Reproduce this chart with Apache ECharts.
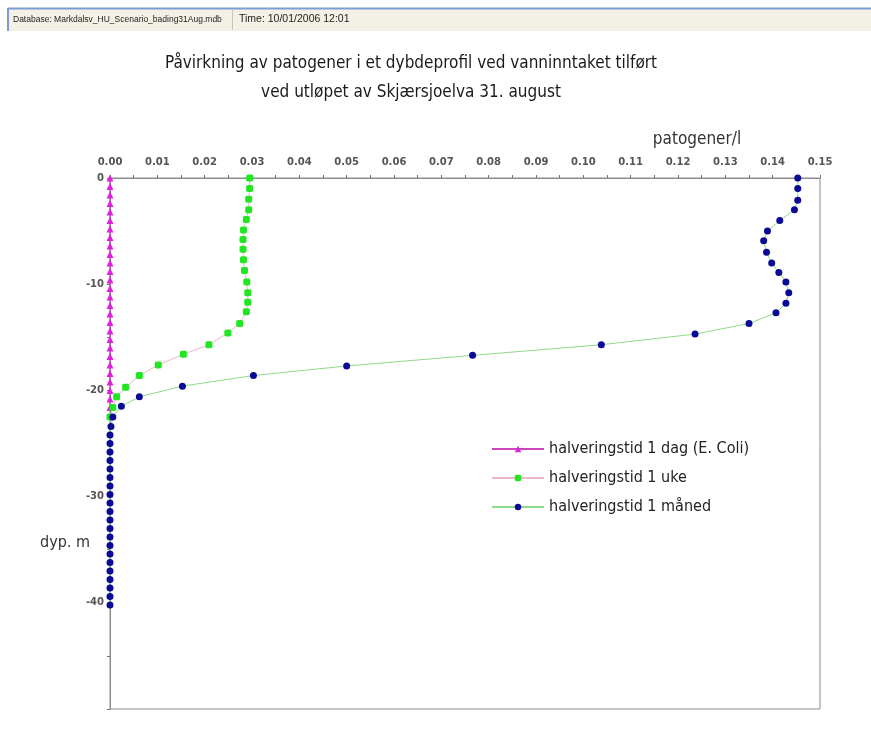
<!DOCTYPE html>
<html>
<head>
<meta charset="utf-8">
<script src="https://cdn.jsdelivr.net/npm/echarts@6/dist/echarts.min.js"></script>
<style>html,body{margin:0;padding:0;background:#fff;}#c{width:871px;height:751px;}</style>
</head>
<body>
<div id="c"></div>
<script>
var titleLines = ['Påvirkning av patogener i et dybdeprofil ved vanninntaket tilført', 'ved utløpet av Skjærsjoelva 31. august'];
var seriesNames = ['halveringstid 1 dag (E. Coli)', 'halveringstid 1 uke', 'halveringstid 1 måned'];
var xTicks = {min: 0, max: 0.15, interval: 0.01};
var yTicks = {min: -50, max: 0, interval: 10};

var dagDepth = [0,-0.8,-1.6,-2.4,-3.2,-4.0,-4.8,-5.6,-6.4,-7.2,-8.0,-8.8,-9.6,-10.4,-11.2,-12.0,-12.8,-13.6,-14.4,-15.2,-16.0,-16.8,-17.6,-18.4,-19.2,-20.0,-20.8,-21.6];
var dagVal   = [0,0,0,0,0,0,0,0,0,0,0,0,0,0,0,0,0,0,0,0,0,0,0,0,0,0,0,0];

var ukeDepth = [0,-1.0,-2.0,-3.0,-3.9,-4.9,-5.8,-6.7,-7.7,-8.7,-9.8,-10.8,-11.7,-12.6,-13.7,-14.6,-15.7,-16.6,-17.6,-18.6,-19.7,-20.6,-21.6,-22.5];
var ukeVal   = [0.0295,0.0295,0.0293,0.0293,0.0288,0.0282,0.0281,0.0281,0.0282,0.0284,0.0289,0.0291,0.0291,0.0288,0.0274,0.0249,0.0209,0.0155,0.0102,0.0062,0.0033,0.0014,0.0006,0.0];

var maanedDepth = [0,-1.0,-2.1,-3.0,-4.0,-5.0,-5.9,-7.0,-8.0,-8.9,-9.8,-10.8,-11.8,-12.7,-13.7,-14.7,-15.7,-16.7,-17.7,-18.6,-19.6,-20.6,-21.5,-22.5,-23.4,-24.2,-25.0,-25.8,-26.6,-27.4,-28.2,-29.0,-29.8,-30.6,-31.4,-32.2,-33.0,-33.8,-34.6,-35.4,-36.2,-37.0,-37.8,-38.6,-39.4,-40.2];
var maanedVal   = [0.1453,0.1453,0.1453,0.1446,0.1415,0.1389,0.1381,0.1387,0.1398,0.1413,0.1428,0.1434,0.1428,0.1407,0.135,0.1236,0.1038,0.0766,0.050,0.0303,0.0153,0.0062,0.0024,0.0006,0.0002,0,0,0,0,0,0,0,0,0,0,0,0,0,0,0,0,0,0,0,0,0];

function pairs(vals, depths){ return vals.map(function(v,i){ return [v, depths[i]]; }); }

var narrow = '"Liberation Sans Narrow","DejaVu Sans Condensed","Liberation Sans",sans-serif';
var tickFont = '"DejaVu Sans",sans-serif';
var chart = echarts.init(document.getElementById('c'));
chart.setOption({
  backgroundColor: '#fff',
  animation: false,
  graphic: [
    {type:'rect', shape:{x:8,y:9,width:863,height:22}, style:{fill:'#f3f1e6'}, z:1},
    {type:'line', shape:{x1:8,y1:8.5,x2:871,y2:8.5}, style:{stroke:'#7e9bd6',lineWidth:2}, z:2},
    {type:'line', shape:{x1:8,y1:8,x2:8,y2:31}, style:{stroke:'#7e9bd6',lineWidth:2}, z:2},
    {type:'line', shape:{x1:232.5,y1:10,x2:232.5,y2:30}, style:{stroke:'#c8c6bb',lineWidth:1}, z:2},
    {type:'text', left:13, top:15, style:{text:'Database: Markdalsv_HU_Scenario_bading31Aug.mdb', font:'8.5px "Liberation Sans",sans-serif', fill:'#222'}, z:3},
    {type:'text', left:239, top:14, style:{text:'Time: 10/01/2006 12:01', font:'10.5px "Liberation Sans",sans-serif', fill:'#222'}, z:3},
    {type:'text', x:411, y:64, style:{text:titleLines[0], font:'17px '+narrow, fill:'#1a1a1a', textAlign:'center', textVerticalAlign:'middle'}},
    {type:'text', x:411, y:93, style:{text:titleLines[1], font:'17px '+narrow, fill:'#1a1a1a', textAlign:'center', textVerticalAlign:'middle'}},
    {type:'text', x:697, y:140, style:{text:'patogener/l', font:'17px '+narrow, fill:'#333', textAlign:'center', textVerticalAlign:'middle'}},
    {type:'text', x:40, y:543, style:{text:'dyp. m', font:'16px '+narrow, fill:'#333', textAlign:'left', textVerticalAlign:'middle'}}
  ],
  legend: {
    orient: 'vertical', left: 486, top: 436, itemWidth: 52, itemHeight: 8, itemGap: 13,
    data: seriesNames,
    textStyle: {fontFamily: narrow, fontSize: 16, color: '#222'}
  },
  grid: {left: 110, top: 178, width: 710, height: 531, show: true, borderColor: '#8c8c8c', borderWidth: 1, backgroundColor: '#fff'},
  xAxis: {
    type: 'value', position: 'top', min: xTicks.min, max: xTicks.max, interval: xTicks.interval,
    axisLine: {lineStyle: {color: '#8c8c8c'}},
    axisTick: {show: true, length: 3, lineStyle: {color: '#777'}},
    minorTick: {show: true, splitNumber: 2, length: 3, lineStyle: {color: '#777'}},
    splitLine: {show: false},
    axisLabel: {margin: 11, fontSize: 10, fontWeight: 'bold', color: '#555', fontFamily: tickFont,
      formatter: function(v){ return v.toFixed(2); }}
  },
  yAxis: {
    type: 'value', min: yTicks.min, max: yTicks.max, interval: yTicks.interval,
    axisLine: {show: true, lineStyle: {color: '#8c8c8c'}},
    axisTick: {show: true, length: 3, lineStyle: {color: '#777'}},
    minorTick: {show: true, splitNumber: 2, length: 3, lineStyle: {color: '#777'}},
    splitLine: {show: false},
    axisLabel: {margin: 6, fontSize: 10, fontWeight: 'bold', color: '#555', fontFamily: tickFont,
      formatter: function(v){ return v === yTicks.min ? '' : String(v); }}
  },
  series: [
    {name: seriesNames[0], type: 'line', data: pairs(dagVal, dagDepth), symbol: 'triangle', symbolSize: 7,
      lineStyle: {color: '#cc44bb', width: 1}, itemStyle: {color: '#dd22dd'}, z: 2},
    {name: seriesNames[1], type: 'line', data: pairs(ukeVal, ukeDepth), symbol: 'roundRect', symbolSize: 7,
      lineStyle: {color: '#eab8c4', width: 1}, itemStyle: {color: '#22e622'}, z: 3},
    {name: seriesNames[2], type: 'line', data: pairs(maanedVal, maanedDepth), symbol: 'circle', symbolSize: 7,
      lineStyle: {color: '#8fd98a', width: 1}, itemStyle: {color: '#0a0a96'}, z: 4}
  ]
});
</script>
</body>
</html>
